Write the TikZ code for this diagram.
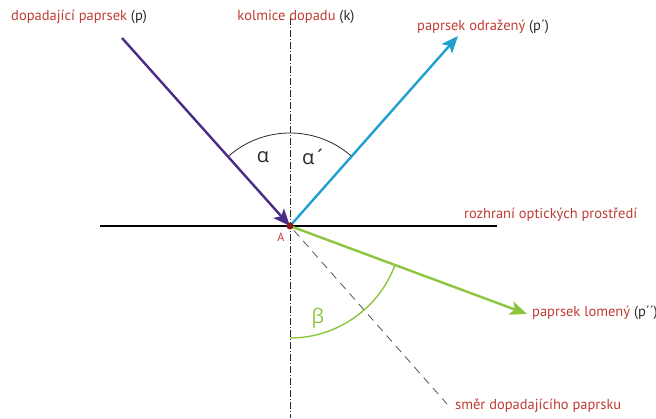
\documentclass[tikz,border=0pt]{standalone}
\usepackage{fontspec}
\setmainfont{PT Sans}
\newfontfamily\greekfont{Open Sans}
\usetikzlibrary{arrows.meta,calc}
\definecolor{labelred}{HTML}{BE3C32}
\definecolor{ink}{HTML}{2A2A2A}
\definecolor{incid}{HTML}{4A2C86}
\definecolor{reflc}{HTML}{1FA0D0}
\definecolor{refrc}{HTML}{8CC63F}
\definecolor{dotred}{HTML}{8B1A1A}
\definecolor{dashgrey}{HTML}{555555}

\begin{document}
\begin{tikzpicture}[x=1pt,y=1pt,>={Stealth[length=17pt,width=14pt,inset=4pt]}]
 \tikzstyle{ray}=[line width=2.4pt]
 \tikzstyle{lbl}=[font=\fontsize{14.5}{16}\selectfont,text=labelred,inner sep=0pt,anchor=west]
 \tikzstyle{angl}=[font=\greekfont\fontsize{20}{22}\selectfont,inner sep=0pt]
 \useasboundingbox (0,0) rectangle (656,418);
 \coordinate (A) at (290,192);
 \coordinate (pin) at (122,380);
 \coordinate (pout) at (458,382);
 \coordinate (plom) at (527,104);
 \coordinate (psmer) at (447,14);
 \coordinate (rl) at (100,192);
 \coordinate (rr) at (497,192);
 \coordinate (kt) at (290,400);
 \coordinate (kb) at (290,0);
 % kolmice a rozhrani
 \draw[ink,line width=1pt,dash pattern=on 7pt off 2pt on 1pt off 2pt] (kt) -- (kb);
 \draw[black,line width=1.2pt] (rl) -- (rr);
 \draw[dashgrey,line width=0.8pt,dash pattern=on 8pt off 6pt] ($(A)!6pt!(psmer)$) -- (psmer);
 % uhly
 \draw[ink,line width=0.8pt] ($(A)+(48.5:93)$) arc[start angle=48.5,end angle=131.8,radius=93];
 \draw[refrc,line width=1.4pt] ($(A)+(-90:112)$) arc[start angle=-90,end angle=-20.4,radius=112];
 % paprsky
 \draw[->,ray,incid] (pin) -- (A);
 \draw[->,ray,reflc] (A) -- (pout);
 \draw[->,ray,refrc] (A) -- (plom);
 \fill[dotred] (A) circle (3.5);
 % popisky
 \node[angl,text=ink] (alfa) at (263,261) {α};
 \node[angl,text=ink] (alfa2) at (314,261) {α´};
 \node[angl,text=refrc] (beta) at (318,100) {β};
 \node[font=\fontsize{12}{13}\selectfont,text=labelred,inner sep=0pt] (bodA) at (281,181) {A};
 \node[lbl] (lpin) at (11,401) {dopadající paprsek \textcolor{ink}{(p)}};
 \node[lbl,anchor=center] (lk) at (296,401) {kolmice dopadu \textcolor{ink}{(k)}};
 \node[lbl] (lpout) at (417,391) {paprsek odražený \textcolor{ink}{(p´)}};
 \node[lbl] (lroz) at (464,203) {rozhraní optických prostředí};
 \node[lbl] (lplom) at (532,105) {paprsek lomený \textcolor{ink}{(p´´)}};
 \node[lbl] (lsmer) at (455,12) {směr dopadajícího paprsku};
\end{tikzpicture}
\end{document}
